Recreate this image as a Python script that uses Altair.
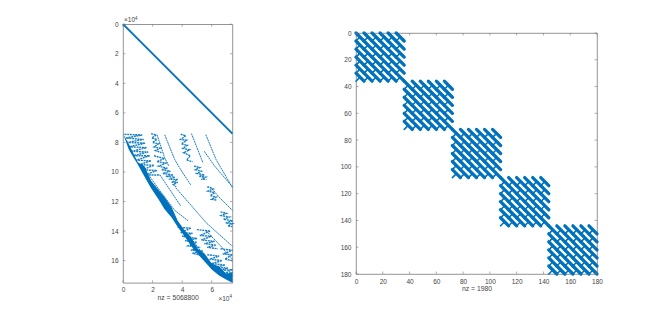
import altair as alt
import pandas as pd

BLUE = "#0072BD"
AX = "#7a7a7a"
TXT = "#444444"
FONT = "Liberation Sans"

# left panel, values in units of 1e4
L_XMAX, L_YMAX = 7.4, 17.5
L_XT = [0, 2, 4, 6]
L_YT = [0, 2, 4, 6, 8, 10, 12, 14, 16]
diag_x = [0, 7.4]
diag_y = [0, 7.4]

edge_x = [0.0, 0.4, 1.0, 1.45, 1.9, 2.4, 2.8, 3.3, 3.7, 4.2, 4.6, 5.05, 5.5, 6.0, 6.5, 7.0, 7.4]
edge_y = [7.4, 8.5, 9.5, 10.3, 11.1, 11.85, 12.5, 13.1, 13.72, 14.4, 15.0, 15.55, 16.05, 16.6, 17.0, 17.3, 17.5]
saw_y  = [7.4, 8.1, 9.35, 9.6, 10.6, 11.2, 11.7, 12.4, 13.3, 14.0, 14.4, 15.2, 15.5, 16.2, 16.4, 16.9, 16.8]

# thin curves (x list, y list)
curves = [
    ([5.6, 6.3, 7.4], [7.47, 9.17, 11.05]),
    ([4.63, 5.41], [7.4, 9.39]),
    ([2.82, 3.5, 4.0, 4.6], [7.48, 9.17, 10.0, 10.9]),
    ([2.3, 2.82, 3.1], [7.48, 9.05, 9.6]),
    ([5.5, 6.2, 7.4], [8.6, 9.6, 11.0]),
    ([3.57, 5.64, 7.4], [11.07, 13.45, 15.03]),
    ([5.9, 6.5, 7.4], [11.0, 11.7, 12.6]),
    ([5.64, 6.6, 7.4], [14.0, 15.0, 15.9]),
    ([4.6, 5.85, 7.4], [14.5, 16.1, 17.3]),
    ([2.5, 3.3, 3.9], [10.2, 11.4, 12.3]),
    ([1.8, 2.6, 3.5, 4.4], [10.3, 11.4, 12.6, 13.3]),
]
# dotted clusters (x list, y list)
chains = [
    ([0.1, 1.3, 0.2, 1.4, 0.3, 1.5, 0.4, 1.6, 0.6, 1.7, 0.7, 1.8, 0.9, 1.9, 1.1, 2.1, 1.3, 2.3, 1.5, 2.5],
     [7.45, 7.5, 7.7, 7.8, 8.0, 8.05, 8.3, 8.35, 8.6, 8.65, 8.9, 8.9, 9.2, 9.25, 9.5, 9.55, 9.85, 9.9, 10.2, 10.2]),
    ([2.1, 2.8, 2.3, 2.9, 2.4, 3.0, 2.6, 3.2, 2.7, 3.4, 2.9, 3.5, 3.1, 3.7, 3.3, 3.7, 3.4, 3.6],
     [8.9, 9.1, 9.3, 9.4, 9.6, 9.75, 9.85, 9.95, 10.1, 10.2, 10.3, 10.35, 10.5, 10.5, 10.7, 10.7, 10.85, 11.0]),
    ([1.9, 2.25, 1.95, 2.3, 2.0, 2.4, 2.1, 2.5, 2.2, 2.6], [7.4, 7.5, 7.7, 7.8, 8.0, 8.1, 8.3, 8.4, 8.55, 8.7]),
    ([3.9, 4.25, 3.9, 4.3, 3.95, 4.35, 4.05, 4.5, 4.1, 4.55, 4.3, 4.7], [7.45, 7.55, 7.8, 7.85, 8.1, 8.2, 8.4, 8.5, 8.7, 8.9, 9.2, 9.3]),
    ([4.8, 5.2, 4.9, 5.3, 5.0, 5.5, 5.15, 5.6, 5.3, 5.65], [9.6, 9.7, 9.85, 9.95, 10.1, 10.2, 10.3, 10.35, 10.5, 10.5]),
    ([5.7, 6.1, 5.75, 6.2, 5.9, 6.3, 6.0, 6.35], [11.0, 11.15, 11.3, 11.4, 11.6, 11.7, 11.85, 11.9]),
    ([6.6, 7.0, 6.65, 7.2, 6.8, 7.4, 6.95, 7.4, 7.1, 7.4], [12.7, 12.8, 12.95, 13.05, 13.2, 13.3, 13.45, 13.5, 13.65, 13.7]),
    ([3.7, 4.6, 3.9, 4.7, 4.0, 5.0, 4.2, 5.0, 4.4, 5.1, 4.6, 5.4, 4.7, 5.5], [13.75, 13.8, 14.1, 14.15, 14.35, 14.5, 14.65, 14.75, 15.0, 15.1, 15.3, 15.35, 15.5, 15.7]),
    ([5.0, 5.9, 5.2, 6.0, 5.3, 6.2, 5.5, 6.3, 5.7, 6.4], [13.9, 14.0, 14.3, 14.35, 14.6, 14.7, 14.85, 14.95, 15.1, 15.2]),
    ([5.7, 6.5, 5.85, 6.7, 6.0, 6.9, 6.2, 7.1, 6.4, 7.4, 6.7, 7.4, 6.9, 7.4], [15.6, 15.7, 15.9, 16.0, 16.2, 16.3, 16.45, 16.5, 16.7, 16.6, 16.95, 16.8, 17.1, 17.0]),
    ([6.6, 7.4, 6.75, 7.4, 6.9, 7.4], [15.2, 15.3, 15.55, 15.6, 15.9, 16.0]),
]

# right panel
R_MAX = 180
R_T = [0, 20, 40, 60, 80, 100, 120, 140, 160, 180]
block_start = [0, 36, 72, 108, 144]
cell_start = [0, 6, 12, 18, 24, 30]
stroke_dx = [0, 6]
stroke_dy = [0, 6]
link_dx = [0, 3]
link_dy = [6, 3]


def ticks(xv, yv, w, h, X, Y):
    dx = pd.DataFrame({"x": xv})
    dy = pd.DataFrame({"y": yv})
    out = []
    for a, b in ((0, 2.5), (h, h - 2.5)):
        out.append(alt.Chart(dx).mark_rule(color=AX, strokeWidth=0.6).encode(
            x=X, y=alt.value(a), y2=alt.value(b)))
    for a, b in ((0, 2.5), (w, w - 2.5)):
        out.append(alt.Chart(dy).mark_rule(color=AX, strokeWidth=0.6).encode(
            y=Y, x=alt.value(a), x2=alt.value(b)))
    return out


def polylines(items):
    rows = []
    for k, (xs, ys) in enumerate(items):
        for i, (a, b) in enumerate(zip(xs, ys)):
            rows.append({"x": a, "y": b, "k": k, "i": i})
    return pd.DataFrame(rows)


def base_axes(xv, yv, xmax, ymax, title):
    X = alt.X("x:Q", scale=alt.Scale(domain=[0, xmax], nice=False),
              axis=alt.Axis(values=xv, title=title, grid=False, domain=False, tickSize=0,
                            labelPadding=4, titlePadding=1, labelFontSize=6.5, titleFontSize=6.8,
                            titleFontWeight="normal", labelColor=TXT, titleColor=TXT,
                            labelFont=FONT, titleFont=FONT, format="d", labelOverlap=False,
                            labelFlush=False))
    Y = alt.Y("y:Q", scale=alt.Scale(domain=[0, ymax], reverse=True, nice=False),
              axis=alt.Axis(values=yv, title=None, grid=False, domain=False, tickSize=0,
                            labelPadding=5, labelFontSize=6.5, labelColor=TXT, labelFont=FONT,
                            minExtent=18, maxExtent=18, format="d", labelOverlap=False,
                            labelFlush=False))
    return X, Y


LW, LH = 109.4, 258.6
RW, RH = 241, 241

X, Y = base_axes(L_XT, L_YT, L_XMAX, L_YMAX, "nz = 5068800")
diag = alt.Chart(pd.DataFrame({"x": diag_x, "y": diag_y})).mark_line(color=BLUE, strokeWidth=1.9).encode(x=X, y=Y)
band = alt.Chart(pd.DataFrame({"x": edge_x, "y": edge_y, "y2": saw_y})).mark_area(color=BLUE).encode(
    x=X, y=Y, y2="y2:Q")
cur = alt.Chart(polylines(curves)).mark_line(color=BLUE, strokeWidth=0.9, strokeDash=[2, 0.6]).encode(
    x=X, y=Y, detail="k:N", order="i:Q")
cha = alt.Chart(polylines(chains)).mark_line(color=BLUE, strokeWidth=1.4, strokeDash=[2, 0.7], opacity=0.9).encode(
    x=X, y=Y, detail="k:N", order="i:Q")
exp_l = [
    alt.Chart(pd.DataFrame({"s": ["\u00d710"]})).mark_text(font=FONT, fontSize=6.5, color=TXT, align="left", baseline="bottom").encode(
        text="s:N", x=alt.value(1), y=alt.value(-1)),
    alt.Chart(pd.DataFrame({"s": ["4"]})).mark_text(font=FONT, fontSize=4.5, color=TXT, align="left", baseline="bottom").encode(
        text="s:N", x=alt.value(12), y=alt.value(-3)),
    alt.Chart(pd.DataFrame({"s": ["\u00d710"]})).mark_text(font=FONT, fontSize=6.5, color=TXT, align="left", baseline="top").encode(
        text="s:N", x=alt.value(LW - 14), y=alt.value(LH + 13)),
    alt.Chart(pd.DataFrame({"s": ["4"]})).mark_text(font=FONT, fontSize=4.5, color=TXT, align="left", baseline="top").encode(
        text="s:N", x=alt.value(LW - 3), y=alt.value(LH + 11)),
]
left = alt.layer(band, diag, cur, cha, *ticks(L_XT, L_YT, LW, LH, X, Y), *exp_l).properties(width=LW, height=LH)

strokes = []
links = []
for b in block_start:
    for r in cell_start:
        for c in cell_start:
            strokes.append(([b + c + d for d in stroke_dx], [b + r + d for d in stroke_dy]))
            links.append(([b + c + d for d in link_dx], [b + r + d for d in link_dy]))

X2, Y2 = base_axes(R_T, R_T, R_MAX, R_MAX, "nz = 1980")
spy = alt.Chart(polylines(strokes)).mark_line(color=BLUE, strokeWidth=3.3, strokeCap="round").encode(
    x=X2, y=Y2, detail="k:N", order="i:Q")
lnk = alt.Chart(polylines(links)).mark_line(color=BLUE, strokeWidth=1.6, strokeCap="round").encode(
    x=X2, y=Y2, detail="k:N", order="i:Q")
right = alt.layer(spy, lnk, *ticks(R_T, R_T, RW, RH, X2, Y2)).properties(width=RW, height=RH)

chart = alt.hconcat(left, right, spacing=123, center=True, bounds="flush").properties(
    padding={"left": 96, "top": 7, "right": 0, "bottom": 0}
).configure_view(stroke=AX, strokeWidth=0.8)

chart.save("out.html", embed_options={"renderer": "svg", "actions": False})
